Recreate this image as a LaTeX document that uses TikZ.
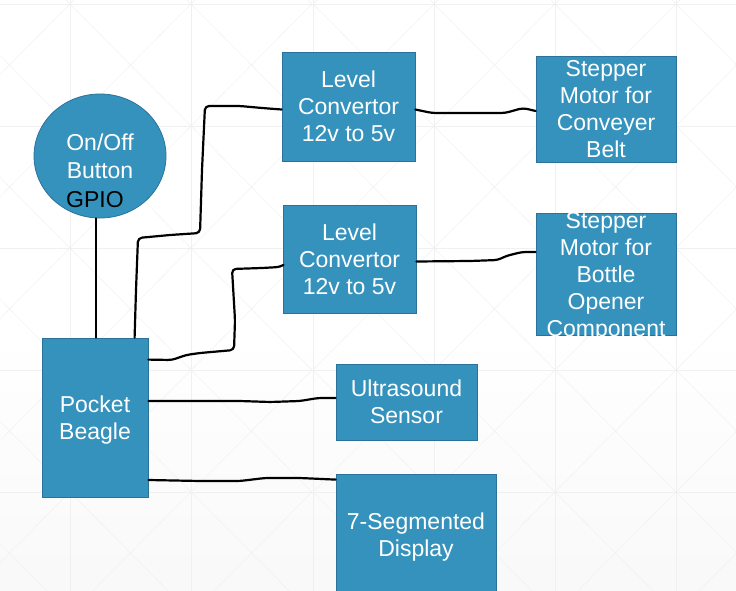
\documentclass[tikz,border=0pt]{standalone}
\usepackage{fontspec}
\setmainfont{Liberation Sans}
\usetikzlibrary{shapes.geometric}
\definecolor{boxblue}{HTML}{3592BD}
\definecolor{boxedge}{HTML}{2A7299}
\definecolor{gridc}{HTML}{F0F0F0}
\tikzset{
  blk/.style={draw=boxedge, line width=0.8pt, fill=boxblue, text=white, align=center,
    font=\fontsize{23}{27}\selectfont, inner sep=0pt},
  wire/.style={draw=black, line width=2.2pt, line join=round, line cap=round, rounded corners=4pt},
  gridl/.style={draw=gridc, line width=0.6pt}
}
\begin{document}
\begin{tikzpicture}[x=1pt,y=-1pt]
\useasboundingbox (0,0) rectangle (736,591);
\clip (0,0) rectangle (736,591);
% background
\fill[white] (0,0) rectangle (736,591);
\shade[top color=white, bottom color=gray!5] (0,330) rectangle (736,591);
% faint grid
\foreach \x in {70,191,313,434,555,676} \draw[gridl] (\x,0) -- (\x,591);
\foreach \y in {4,126,248,370,492} \draw[gridl] (0,\y) -- (736,\y);
\foreach \x in {-51,70,191,313,434,555,676}{
  \foreach \y in {-118,4,126,248,370,492}{
    \draw[gridl, line width=0.4pt] (\x,\y) -- (\x+121,\y+122);
    \draw[gridl, line width=0.4pt] (\x+121,\y) -- (\x,\y+122);
  }
}
% nodes
\node[blk, ellipse, minimum width=132pt, minimum height=124pt] (btn) at (100,156) {};
\node[text=white, font=\fontsize{23}{27}\selectfont] (btnt1) at (100,142) {On/Off};
\node[text=white, font=\fontsize{23}{27}\selectfont] (btnt2) at (100,171) {Button};
\node[text=black, font=\fontsize{23}{27}\selectfont] (btnt3) at (95,200) {GPIO};

\node[blk, minimum width=133pt, minimum height=109pt] (c1) at (348.5,106.5) {Level\\Convertor\\12v to 5v};
\node[blk, minimum width=140pt, minimum height=106pt] (s1) at (606,109) {Stepper\\Motor for\\Conveyer\\Belt};
\node[blk, minimum width=133pt, minimum height=108pt] (c2) at (349.5,259.5) {Level\\Convertor\\12v to 5v};
\node[blk, minimum width=140pt, minimum height=122pt] (s2) at (606,274) {};
\begin{scope}
  \clip (s2.south west) rectangle (s2.north east);
  \node[text=white, align=center, font=\fontsize{23}{27}\selectfont] (s2t) at (606,277) {Stepper\\Motor for\\Bottle\\Opener\\Component};
\end{scope}
\node[blk, minimum width=106pt, minimum height=159pt] (pb) at (95,417.5) {};
\node[text=white, align=center, font=\fontsize{23}{27}\selectfont] (pbt) at (95,420) {Pocket\\Beagle};
\node[blk, minimum width=141pt, minimum height=76pt] (us) at (406.5,402) {Ultrasound\\Sensor};
\node[blk, minimum width=160pt, minimum height=126pt] (seg) at (416,537) {7-Segmented\\Display};

% wires
\draw[wire] ([xshift=-4pt]btn.south) -- ([xshift=-4pt]btn.south |- pb.north);
\draw[wire] ([xshift=93pt]pb.north west) -- (136,290) -- (138,238) -- (170,235) -- (200,233)
  -- (202,170) -- (205,106) -- (240,106) -- (262,108) -- ([yshift=-3pt]c1.west);
\draw[wire] ([yshift=-22pt]pb.north east) -- (172,360) -- (186,355) -- (200,353) -- (234,350)
  -- (235,320) -- (232,269) -- (262,268) -- (280,267) -- ([yshift=-6pt]c2.west);
\draw[wire] ([yshift=-3pt]c1.east) -- (432,113) -- (470,113) -- (505,113) -- (523,108) -- ([yshift=-2pt]s1.west);
\draw[wire] ([yshift=-2pt]c2.east) -- (470,261) -- (498,260) -- (506,256) -- (522,252) -- ([yshift=22pt]s2.west);
\draw[wire] ([yshift=16.5pt]pb.east) -- (240,401) -- (270,402) -- (300,401) -- (318,398) -- ([yshift=4pt]us.west);
\draw[wire] ([yshift=-62.5pt]pb.east) -- (200,481) -- (240,481) -- (265,478) -- (300,478) -- ([yshift=-6pt]seg.north west);
\end{tikzpicture}
\end{document}
